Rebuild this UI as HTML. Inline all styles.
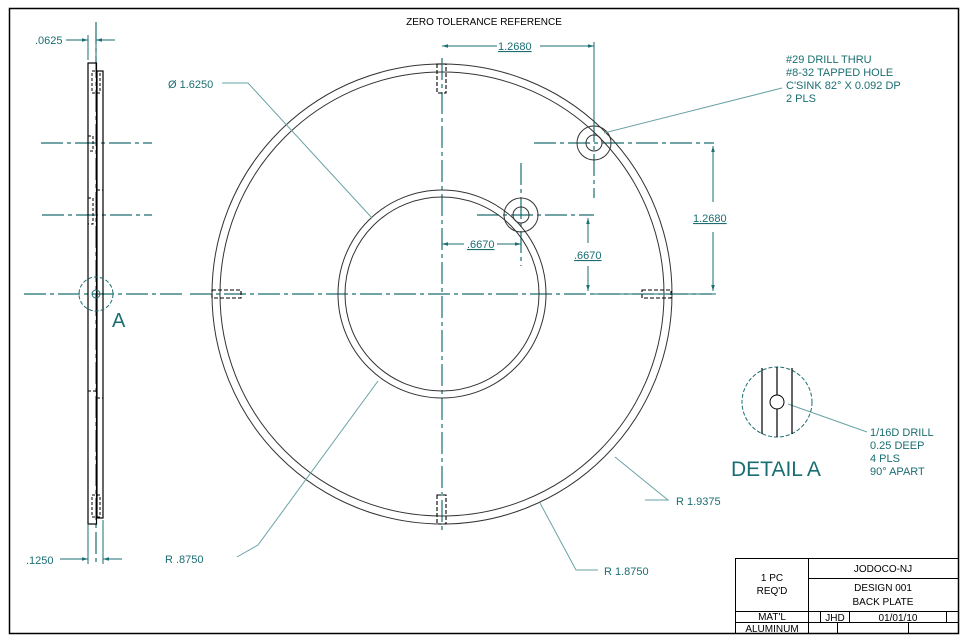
<!DOCTYPE html>
<html><head><style>body{margin:0;background:#fff}svg{display:block}text{font-family:"Liberation Sans",sans-serif}</style></head><body>
<svg width="968" height="640" viewBox="0 0 968 640" xmlns="http://www.w3.org/2000/svg">
<defs>
<marker id="ar" viewBox="0 0 10 10" refX="10" refY="5" markerWidth="8" markerHeight="6" orient="auto-start-reverse"><path d="M0,2 L10,5 L0,8z" fill="#1a6e72"/></marker>
</defs>
<rect x="9.5" y="8.5" width="949" height="625" fill="none" stroke="#000" stroke-width="1.5"/>
<text x="484" y="25" font-size="10" text-anchor="middle" fill="#000">ZERO TOLERANCE REFERENCE</text>

<g fill="none" stroke="#1a6e72" stroke-width="1.2" stroke-dasharray="22,4,4,4">
<line x1="24" y1="294" x2="183" y2="294"/><line x1="190" y1="294" x2="712" y2="294"/>
<line x1="442" y1="58" x2="442" y2="530"/>
<line x1="96" y1="22" x2="96" y2="565"/>
<line x1="41" y1="143" x2="152" y2="143"/><line x1="42" y1="215" x2="152" y2="215"/>
<line x1="534" y1="143" x2="714" y2="143"/><line x1="594" y1="120" x2="594" y2="198"/>
<line x1="477" y1="215" x2="594" y2="215"/><line x1="521" y1="163" x2="521" y2="266"/>
</g>

<g fill="none" stroke="#333" stroke-width="1">
<circle cx="442" cy="294" r="230"/><circle cx="442" cy="294" r="222"/>
<circle cx="442" cy="294" r="104"/><circle cx="442" cy="294" r="97"/>
<circle cx="594" cy="143" r="17"/><circle cx="594" cy="143" r="8"/>
<circle cx="521" cy="215" r="17"/><circle cx="521" cy="215" r="8"/>
</g>
<g fill="none" stroke="#000" stroke-width="1.1" stroke-dasharray="4,2">
<rect x="437" y="64" width="9" height="29"/><rect x="437" y="495" width="9" height="29"/>
<rect x="212" y="290" width="29" height="8"/><rect x="642" y="290" width="29" height="8"/>
</g>

<!-- side view -->
<g fill="none" stroke="#000" stroke-width="1.2">
<rect x="88" y="63" width="8.5" height="461"/><rect x="97" y="71" width="6" height="447"/>
</g>
<g fill="none" stroke="#000" stroke-width="1" stroke-dasharray="3,2">
<rect x="92" y="71" width="8" height="22"/><rect x="92" y="495" width="8" height="22"/>
<rect x="88" y="136" width="5" height="15"/><rect x="88" y="198" width="5" height="26"/>
<line x1="88" y1="391" x2="96" y2="391"/><line x1="97" y1="398" x2="103" y2="398"/>
<line x1="97" y1="190" x2="103" y2="190"/>
</g>
<circle cx="96" cy="294" r="17" fill="none" stroke="#1a6e72" stroke-dasharray="4,2"/>
<circle cx="96" cy="294" r="4" fill="none" stroke="#1a6e72"/>
<text x="112" y="327" font-size="20" fill="#1a6e72">A</text>

<g stroke="#1a6e72" stroke-width="1" fill="none">
<line x1="88" y1="35" x2="88" y2="60"/><line x1="96" y1="35" x2="96" y2="60"/>
<line x1="66" y1="40" x2="88" y2="40" marker-end="url(#ar)"/><line x1="115" y1="40" x2="96" y2="40" marker-end="url(#ar)"/>
<line x1="88" y1="524" x2="88" y2="564"/><line x1="103" y1="520" x2="103" y2="564"/>
<line x1="60" y1="559" x2="88" y2="559" marker-end="url(#ar)"/><line x1="122" y1="559" x2="103" y2="559" marker-end="url(#ar)"/>
<!-- top 1.2680 -->
<line x1="594" y1="42" x2="594" y2="128"/>
<line x1="442" y1="46" x2="497" y2="46" marker-start="url(#ar)"/><line x1="540" y1="46" x2="594" y2="46" marker-end="url(#ar)"/>
<line x1="713" y1="146" x2="713" y2="202" marker-start="url(#ar)"/><line x1="713" y1="232" x2="713" y2="291" marker-end="url(#ar)"/>
<line x1="594" y1="294" x2="716" y2="294"/>
<line x1="588" y1="218" x2="588" y2="243" marker-start="url(#ar)"/><line x1="588" y1="266" x2="588" y2="291" marker-end="url(#ar)"/>
<line x1="442" y1="244" x2="464" y2="244" marker-start="url(#ar)"/><line x1="497" y1="244" x2="521" y2="244" marker-end="url(#ar)"/>
</g>
<g stroke="#6aa3a6" stroke-width="1" fill="none">
<polyline points="222,83 248,83 372,218"/>
<polyline points="237,557 258,545 378,381"/>
<polyline points="645,500 668,500 615,457"/>
<polyline points="598,570 576,570 540,503"/>
<line x1="782" y1="88" x2="604" y2="133"/>
<line x1="867" y1="432" x2="788" y2="404"/>
</g>
<g fill="#1a6e72" font-size="11">
<text x="35" y="44">.0625</text>
<text x="26" y="564">.1250</text>
<text x="168" y="88">Ø 1.6250</text>
<text x="165" y="563">R .8750</text>
<text x="676" y="505">R 1.9375</text>
<text x="604" y="575">R 1.8750</text>
<text x="498" y="50" text-decoration="underline">1.2680</text>
<text x="693" y="222" text-decoration="underline">1.2680</text>
<text x="467" y="248" text-decoration="underline">.6670</text>
<text x="574" y="259" text-decoration="underline">.6670</text>
<text x="786" y="63">#29 DRILL THRU</text>
<text x="786" y="76">#8-32 TAPPED HOLE</text>
<text x="786" y="89">C'SINK 82° X 0.092 DP</text>
<text x="786" y="102">2 PLS</text>
<text x="870" y="436">1/16D DRILL</text>
<text x="870" y="449">0.25 DEEP</text>
<text x="870" y="462">4 PLS</text>
<text x="870" y="475">90° APART</text>
<text x="731" y="476" font-size="21">DETAIL A</text>
</g>
<circle cx="777" cy="402" r="35" fill="none" stroke="#1a6e72" stroke-dasharray="4,2"/>
<g stroke="#000" stroke-width="1.2"><line x1="762" y1="368" x2="762" y2="434"/><line x1="777" y1="367" x2="777" y2="437"/><line x1="792" y1="368" x2="792" y2="434"/></g>
<circle cx="777" cy="402" r="7" fill="#fff" stroke="#000"/>

<!-- title block -->
<g stroke="#000" stroke-width="1" fill="none">
<rect x="735.5" y="558.5" width="223" height="75"/>
<line x1="808.5" y1="558" x2="808.5" y2="633"/>
<line x1="808" y1="578.5" x2="958" y2="578.5"/>
<line x1="735" y1="611.5" x2="958" y2="611.5"/>
<line x1="735" y1="622.5" x2="958" y2="622.5"/>
<line x1="820.5" y1="611" x2="820.5" y2="622"/><line x1="849.5" y1="611" x2="849.5" y2="622"/><line x1="946.5" y1="611" x2="946.5" y2="622"/>
<line x1="837.5" y1="622" x2="837.5" y2="633"/><line x1="908.5" y1="622" x2="908.5" y2="633"/>
</g>
<g font-size="10" fill="#000" text-anchor="middle">
<text x="772" y="581">1 PC</text><text x="772" y="594">REQ'D</text>
<text x="883" y="572">JODOCO-NJ</text>
<text x="883" y="591">DESIGN 001</text><text x="883" y="605">BACK PLATE</text>
<text x="772" y="620">MAT'L</text><text x="772" y="632">ALUMINUM</text>
<text x="835" y="621">JHD</text><text x="898" y="621">01/01/10</text>
</g>
</svg>
</body></html>
